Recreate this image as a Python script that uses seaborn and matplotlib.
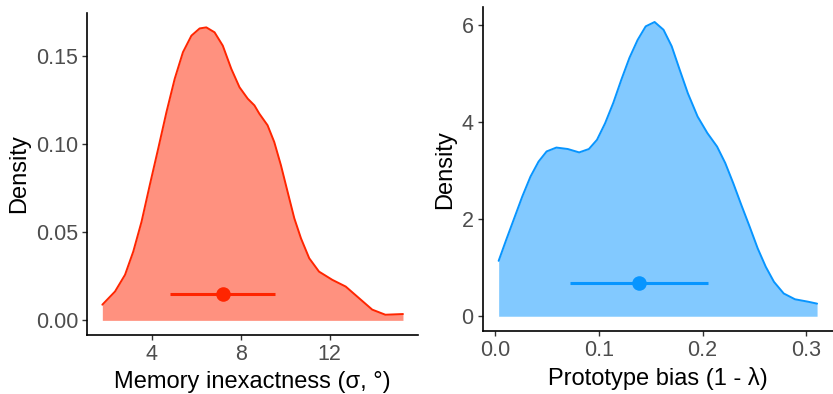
import matplotlib
matplotlib.use("Agg")
import matplotlib.pyplot as plt
import pandas as pd
import seaborn as sns

# density curves
mem_x = [1.79, 2.36, 2.81, 3.18, 3.55, 3.92, 4.30, 4.67, 5.04, 5.41, 5.79, 6.16,
         6.46, 6.83, 7.20, 7.58, 7.95, 8.32, 8.62, 8.84, 9.21, 9.51, 9.81, 10.11,
         10.41, 10.71, 11.08, 11.52, 12.12, 12.72, 13.31, 13.91, 14.50, 15.29]
mem_density = [0.0089, 0.0164, 0.0259, 0.0391, 0.056, 0.0768, 0.0976, 0.1183,
               0.1372, 0.1523, 0.1617, 0.1658, 0.1664, 0.1636, 0.156, 0.1429,
               0.1324, 0.1259, 0.1221, 0.1174, 0.1108, 0.1013, 0.0881, 0.0730,
               0.058, 0.0466, 0.0353, 0.0277, 0.0230, 0.0192, 0.0127, 0.0061,
               0.0032, 0.0036]

bias_x = [0.0031, 0.0103, 0.0181, 0.0259, 0.0338, 0.0416, 0.0494, 0.0588, 0.0698,
          0.0808, 0.0902, 0.098, 0.1058, 0.1137, 0.1215, 0.1293, 0.1372, 0.145,
          0.1536, 0.1622, 0.1701, 0.1779, 0.1857, 0.1951, 0.2045, 0.2139, 0.2218,
          0.2296, 0.2374, 0.2453, 0.2531, 0.2609, 0.2688, 0.2782, 0.2891, 0.3017,
          0.3104]
bias_density = [1.143, 1.571, 2.02, 2.47, 2.88, 3.19, 3.40, 3.48, 3.45, 3.38, 3.45,
                3.64, 3.98, 4.40, 4.88, 5.33, 5.70, 5.98, 6.07, 5.91, 5.57, 5.08,
                4.60, 4.12, 3.78, 3.50, 3.16, 2.74, 2.29, 1.85, 1.40, 1.02, 0.71,
                0.47, 0.35, 0.30, 0.26]

# point estimate and interval
mem_point, mem_lo, mem_hi, mem_y = 7.2, 4.83, 9.56, 0.0149
bias_point, bias_lo, bias_hi, bias_y = 0.1387, 0.072, 0.205, 0.696

RED = "#FF2500"
BLUE = "#0795FF"

sns.set_theme(style="ticks")
plt.rcParams["font.family"] = ["Liberation Sans", "DejaVu Sans"]

fig = plt.figure(figsize=(8.33, 3.94), dpi=100)
ax1 = fig.add_axes([0.1048, 0.1497, 0.397, 0.818])
ax2 = fig.add_axes([0.5795, 0.160, 0.4205, 0.8215])


def draw(ax, xs, ys, color, pt, lo, hi, py):
    df = pd.DataFrame({"x": xs, "density": ys})
    ax.fill_between(df["x"], 0, df["density"], color=color, alpha=0.5, linewidth=0)
    sns.lineplot(data=df, x="x", y="density", ax=ax, color=color, linewidth=1.4)
    ax.hlines(py, lo, hi, color=color, linewidth=2.2)
    sns.scatterplot(x=[pt], y=[py], ax=ax, color=color, s=110, linewidth=0, zorder=5)
    pad_x = (max(xs) - min(xs)) * 0.05
    ax.set_xlim(min(xs) - pad_x, max(xs) + pad_x)
    pad_y = max(ys) * 0.05
    ax.set_ylim(-pad_y, max(ys) + pad_y)
    sns.despine(ax=ax)
    for s in ["left", "bottom"]:
        ax.spines[s].set_linewidth(1.2)
        ax.spines[s].set_color("black")
    ax.tick_params(axis="both", labelsize=15.5, labelcolor="#4D4D4D", color="#333333",
                   length=3.5, width=1, pad=3)
    ax.set_ylabel("Density", fontsize=17, color="black", labelpad=4)


draw(ax1, mem_x, mem_density, RED, mem_point, mem_lo, mem_hi, mem_y)
ax1.set_xticks([4, 8, 12])
ax1.set_yticks([0.0, 0.05, 0.10, 0.15])
ax1.set_yticklabels(["0.00", "0.05", "0.10", "0.15"])
ax1.set_xlabel("Memory inexactness (σ, °)", fontsize=17, color="black", labelpad=4)

draw(ax2, bias_x, bias_density, BLUE, bias_point, bias_lo, bias_hi, bias_y)
ax2.set_xticks([0.0, 0.1, 0.2, 0.3])
ax2.set_xticklabels(["0.0", "0.1", "0.2", "0.3"])
ax2.set_yticks([0, 2, 4, 6])
ax2.set_xlabel("Prototype bias (1 - λ)", fontsize=17, color="black", labelpad=4)

fig.savefig("out.png", dpi=100)
